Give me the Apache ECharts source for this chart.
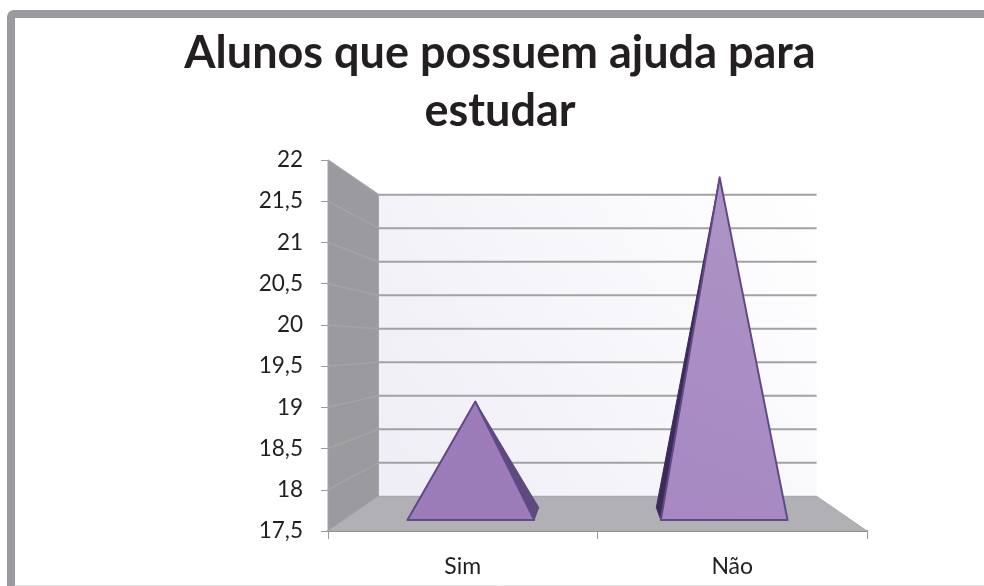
<!DOCTYPE html>
<html>
<head>
<meta charset="utf-8">
<style>html,body{margin:0;padding:0;background:#fff}#c{width:984px;height:586px}</style>
<script src="https://cdn.jsdelivr.net/npm/echarts@6/dist/echarts.min.js"></script>
</head>
<body>
<div id="c"></div>
<script>
var titleText = 'Alunos que possuem ajuda para\nestudar';
var categories = ['Sim', 'Não'];
var values = [19, 22];
var tickValues = [17.5, 18, 18.5, 19, 19.5, 20, 20.5, 21, 21.5, 22];
var axisMin = 17.5, axisMax = 22, axisStep = 0.5;
var backScale = 0.813;          // size of the back plane relative to the front plane
var pyramidFrontDepth = 0.32, pyramidBackDepth = 0.68, pyramidTipDepth = 0.5;

function project(p, depth, cs) {
  var vx = cs.x + cs.width / 2, vy = cs.y + cs.height / 2;
  var k = depth * (1 - backScale);
  return [p[0] + k * (vx - p[0]), p[1] + k * (vy - p[1])];
}

function renderWalls(params, api) {
  var cs = params.coordSys;
  var fl = [cs.x, cs.y + cs.height], fr = [cs.x + cs.width, cs.y + cs.height], tl = [cs.x, cs.y], tr = [cs.x + cs.width, cs.y];
  var bfl = project(fl, 1, cs), bfr = project(fr, 1, cs), btl = project(tl, 1, cs), btr = project(tr, 1, cs);
  return { type: 'group', silent: true, children: [
    { type: 'polygon', shape: { points: [btl, btr, bfr, bfl] }, style: {
      fill: new echarts.graphic.LinearGradient(0, 1, 1, 0, [{ offset: 0, color: '#efedf5' }, { offset: 0.6, color: '#f8f7fb' }, { offset: 1, color: '#ffffff' }]) } },
    { type: 'polygon', shape: { points: [tl, btl, bfl, fl] }, style: { fill: '#9b9a9e', stroke: '#a3a2a6', lineWidth: 1 } },
    { type: 'polygon', shape: { points: [bfl, bfr, fr, fl] }, style: { fill: '#b1b0b4' } },
    { type: 'line', shape: { x1: bfl[0], y1: bfl[1], x2: bfr[0], y2: bfr[1] }, style: { stroke: '#a3a3a6', lineWidth: 1 } },
    { type: 'line', shape: { x1: fl[0], y1: fl[1], x2: bfl[0], y2: bfl[1] }, style: { stroke: '#a8a8ab', lineWidth: 1 } },
    { type: 'line', shape: { x1: fr[0], y1: fr[1], x2: bfr[0], y2: bfr[1] }, style: { stroke: '#a8a8ab', lineWidth: 1 } }
  ] };
}

function renderGrid(params, api) {
  var cs = params.coordSys, v = api.value(0);
  var left = [cs.x, api.coord([0, v])[1]], right = [cs.x + cs.width, left[1]];
  var bl = project(left, 1, cs), br = project(right, 1, cs);
  if (v === axisMin) return { type: 'group', children: [] };
  return { type: 'group', silent: true, children: [
    { type: 'line', shape: { x1: left[0], y1: left[1], x2: bl[0], y2: bl[1] }, style: { stroke: '#a4a4a7', lineWidth: 1.5 } },
    { type: 'line', shape: { x1: bl[0], y1: bl[1], x2: br[0], y2: br[1] }, style: { stroke: '#a2a2a4', lineWidth: 2 } }
  ] };
}

function renderPyramid(params, api) {
  var cs = params.coordSys;
  var cat = api.value(0), val = api.value(1);
  var base = api.coord([cat, axisMin]), top = api.coord([cat, val]);
  var half = api.size([1, 0])[0] * 0.25;
  var fL = project([base[0] - half, base[1]], pyramidFrontDepth, cs);
  var fR = project([base[0] + half, base[1]], pyramidFrontDepth, cs);
  var bL = project([base[0] - half, base[1]], pyramidBackDepth, cs);
  var bR = project([base[0] + half, base[1]], pyramidBackDepth, cs);
  var tip = project(top, pyramidTipDepth, cs);
  var leftOfCentre = tip[0] < cs.x + cs.width / 2;
  var side = leftOfCentre ? [fR, bR, tip] : [bL, fL, tip];
  var sideFill = leftOfCentre ? '#5f4a7f' : '#3b2b59';
  var faceFill = leftOfCentre
    ? new echarts.graphic.LinearGradient(0, 1, 1, 0, [{ offset: 0, color: '#9c7cb9' }, { offset: 1, color: '#9d7cb8' }])
    : new echarts.graphic.LinearGradient(0, 1, 1, 0, [{ offset: 0, color: '#a788c2' }, { offset: 1, color: '#ad94c5' }]);
  return { type: 'group', silent: true, children: [
    { type: 'polygon', shape: { points: side }, style: { fill: sideFill, stroke: sideFill, lineWidth: 1 } },
    { type: 'polygon', shape: { points: [fL, fR, tip] }, style: { fill: faceFill, stroke: '#5f4a86', lineWidth: 2, lineJoin: 'round' } }
  ] };
}

var chart = echarts.init(document.getElementById('c'), null, { renderer: 'canvas' });
chart.setOption({
  animation: false,
  backgroundColor: '#fff',
  title: {
    text: titleText, left: 495, top: 19, textAlign: 'center',
    textStyle: { fontFamily: 'Lato', fontWeight: 'bold', fontSize: 45, lineHeight: 58, color: '#231f20' }
  },
  grid: { left: 328, right: 117, top: 160, bottom: 55 },
  xAxis: {
    type: 'category', data: categories, boundaryGap: true,
    axisLine: { show: true, onZero: false, lineStyle: { color: '#8f8f92', width: 2 } },
    axisTick: { show: true, length: 8, alignWithLabel: false, lineStyle: { color: '#9a9a9c', width: 1 } },
    axisLabel: { margin: 24, fontFamily: 'Lato', fontSize: 23, color: '#231f20' },
    splitLine: { show: false }
  },
  yAxis: {
    type: 'value', min: axisMin, max: axisMax, interval: axisStep,
    axisLine: { show: false },
    axisTick: { show: true, length: 7, lineStyle: { color: '#9a9a9c', width: 1 } },
    axisLabel: { margin: 25, fontFamily: 'Lato', fontSize: 22.5, color: '#231f20', padding: [6, 0, 0, 0],
      formatter: function (v) { return String(v).replace('.', ','); } },
    splitLine: { show: false }
  },
  graphic: [
    { type: 'line', z: -1, shape: { x1: 15, y1: 585.5, x2: 984, y2: 585.5 }, style: { stroke: '#e6e6e6', lineWidth: 1 } },
    { type: 'rect', z: -1, shape: { x: 11, y: 14, width: 1100, height: 800, r: 3 }, style: { fill: null, stroke: '#9b9b9f', lineWidth: 8 } }
  ],
  series: [
    { type: 'custom', coordinateSystem: 'cartesian2d', clip: false, z: 1, silent: true, renderItem: renderWalls, data: [[0, axisMin]] },
    { type: 'custom', coordinateSystem: 'cartesian2d', clip: false, z: 2, silent: true, renderItem: renderGrid,
      encode: { y: 0 }, data: tickValues.map(function (v) { return [v]; }) },
    { type: 'custom', coordinateSystem: 'cartesian2d', clip: false, z: 3, silent: true, renderItem: renderPyramid,
      encode: { x: 0, y: 1 }, data: values.map(function (v, i) { return [i, v]; }) }
  ]
});
</script>
</body>
</html>
